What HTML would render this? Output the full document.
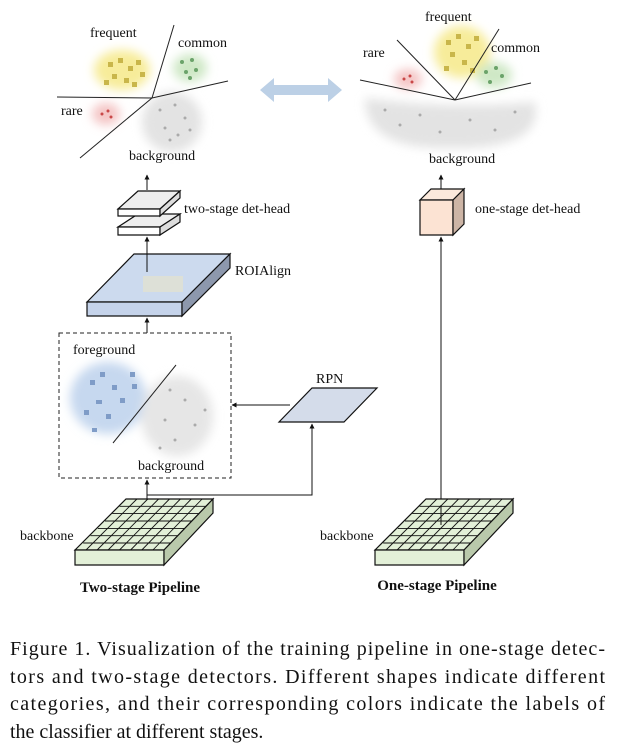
<!DOCTYPE html>
<html><head><meta charset="utf-8"><style>
html,body{margin:0;padding:0;background:#fff;}
svg{display:block;}
text{font-family:"Liberation Serif",serif;fill:#111;}
</style></head><body>
<svg width="617" height="748" viewBox="0 0 617 748" xmlns="http://www.w3.org/2000/svg">
<defs>
<marker id="ar" viewBox="0 0 10 10" refX="9" refY="5" markerWidth="5" markerHeight="5" orient="auto"><path d="M0,0L10,5L0,10z" fill="#111"/></marker>
<filter id="bl" x="-50%" y="-50%" width="200%" height="200%"><feGaussianBlur stdDeviation="5"/></filter>
<pattern id="grid" width="11" height="7.3" patternUnits="userSpaceOnUse"></pattern>
</defs>

<!-- left classifier -->
<g filter="url(#bl)">
<ellipse cx="122" cy="70" rx="28" ry="20" fill="#f7ec9a"/>
<ellipse cx="190" cy="68" rx="17" ry="14" fill="#cfe8c6"/>
<ellipse cx="106" cy="114" rx="14" ry="11" fill="#f4c5c5"/>
<ellipse cx="172" cy="122" rx="30" ry="30" fill="#e3e3e3"/>
</g>
<g fill="#c9b64a"><rect x="108" y="62" width="5" height="5"/><rect x="118" y="58" width="5" height="5"/><rect x="128" y="66" width="5" height="5"/><rect x="112" y="74" width="5" height="5"/><rect x="124" y="78" width="5" height="5"/><rect x="136" y="60" width="5" height="5"/><rect x="140" y="72" width="5" height="5"/><rect x="104" y="80" width="5" height="5"/><rect x="132" y="82" width="5" height="5"/></g>
<g fill="#6ba36a"><circle cx="182" cy="62" r="2"/><circle cx="192" cy="60" r="2"/><circle cx="196" cy="70" r="2"/><circle cx="186" cy="72" r="2"/><circle cx="190" cy="78" r="2"/></g>
<g fill="#c94848"><circle cx="102" cy="114" r="1.5"/><circle cx="108" cy="111" r="1.5"/><circle cx="111" cy="117" r="1.5"/></g>
<g fill="#aaa"><circle cx="160" cy="110" r="1.5"/><circle cx="175" cy="105" r="1.5"/><circle cx="185" cy="118" r="1.5"/><circle cx="165" cy="128" r="1.5"/><circle cx="178" cy="135" r="1.5"/><circle cx="190" cy="130" r="1.5"/><circle cx="170" cy="140" r="1.5"/></g>
<g stroke="#222" stroke-width="1" fill="none">
<line x1="174" y1="25" x2="152" y2="98"/><line x1="57" y1="97" x2="152" y2="98"/><line x1="152" y1="98" x2="228" y2="81"/><line x1="152" y1="98" x2="80" y2="158"/>
</g>
<text x="90" y="37" font-size="14">frequent</text>
<text x="178" y="47" font-size="14">common</text>
<text x="61" y="115" font-size="14">rare</text>
<text x="129" y="160" font-size="14">background</text>

<!-- right classifier -->
<g filter="url(#bl)">
<ellipse cx="462" cy="52" rx="28" ry="26" fill="#f7ec9a"/>
<ellipse cx="494" cy="75" rx="18" ry="13" fill="#cfe8c6"/>
<ellipse cx="408" cy="79" rx="14" ry="10" fill="#f4c5c5"/>
<path d="M365,98 Q450,110 535,102 Q545,150 450,148 Q365,150 365,98z" fill="#e3e3e3"/>
</g>
<g fill="#c9b64a"><rect x="446" y="40" width="5" height="5"/><rect x="456" y="34" width="5" height="5"/><rect x="466" y="44" width="5" height="5"/><rect x="450" y="52" width="5" height="5"/><rect x="462" y="60" width="5" height="5"/><rect x="474" y="36" width="5" height="5"/><rect x="444" y="66" width="5" height="5"/><rect x="470" y="68" width="5" height="5"/></g>
<g fill="#6ba36a"><circle cx="486" cy="72" r="2"/><circle cx="496" cy="68" r="2"/><circle cx="502" cy="76" r="2"/><circle cx="490" cy="82" r="2"/></g>
<g fill="#c94848"><circle cx="404" cy="79" r="1.5"/><circle cx="410" cy="76" r="1.5"/><circle cx="412" cy="82" r="1.5"/></g>
<g fill="#aaa"><circle cx="385" cy="110" r="1.5"/><circle cx="400" cy="125" r="1.5"/><circle cx="420" cy="115" r="1.5"/><circle cx="440" cy="132" r="1.5"/><circle cx="470" cy="120" r="1.5"/><circle cx="495" cy="130" r="1.5"/><circle cx="515" cy="112" r="1.5"/></g>
<g stroke="#222" stroke-width="1" fill="none">
<line x1="455" y1="100" x2="397" y2="40"/><line x1="455" y1="100" x2="499" y2="29"/><line x1="455" y1="100" x2="360" y2="80"/><line x1="455" y1="100" x2="531" y2="83"/>
</g>
<text x="425" y="21" font-size="14">frequent</text>
<text x="363" y="57" font-size="14">rare</text>
<text x="491" y="52" font-size="14">common</text>
<text x="429" y="163" font-size="14">background</text>

<!-- double arrow -->
<path d="M260,90 L274,78 L274,85 L328,85 L328,78 L342,90 L328,102 L328,95 L274,95 L274,102z" fill="#bcd0e6"/>

<!-- left det head -->
<line x1="147" y1="190" x2="147" y2="175" stroke="#111" marker-end="url(#ar)"/>
<g stroke="#111" stroke-width="1.2">
<path d="M118,227 L138,214 L180,214 L160,227z" fill="#eee"/><path d="M118,227 H160 V235 H118z" fill="#fff"/><path d="M160,227 L180,214 V222 L160,235z" fill="#ddd"/>
<path d="M118,209 L138,191 L180,191 L160,209z" fill="#eee"/><path d="M118,209 H160 V216 H118z" fill="#fff"/><path d="M160,209 L180,191 V198 L160,216z" fill="#ddd"/>
</g>
<text x="184" y="213" font-size="14">two-stage det-head</text>

<!-- ROIAlign -->
<g stroke="#111" stroke-width="1.2">
<path d="M87,302 L134,254 L230,254 L182,302z" fill="#ccdaee"/>
<path d="M87,302 H182 V316 H87z" fill="#c5d3ea"/>
<path d="M182,302 L230,254 V268 L182,316z" fill="#8d98ad"/>
</g>
<rect x="143" y="276" width="40" height="16" fill="#e8e4c8" opacity="0.6"/>
<line x1="147" y1="272" x2="147" y2="237" stroke="#111" marker-end="url(#ar)"/>
<text x="235" y="275" font-size="14">ROIAlign</text>
<line x1="147" y1="333" x2="147" y2="318" stroke="#111" marker-end="url(#ar)"/>

<!-- dashed box -->
<rect x="59" y="333" width="172" height="145" fill="none" stroke="#222" stroke-dasharray="4,3"/>
<g filter="url(#bl)">
<ellipse cx="108" cy="398" rx="38" ry="36" fill="#c6d8ef"/>
<ellipse cx="177" cy="416" rx="36" ry="40" fill="#e6e6e6"/>
</g>
<g fill="#7f9cc7"><rect x="90" y="380" width="5" height="5"/><rect x="100" y="372" width="5" height="5"/><rect x="112" y="385" width="5" height="5"/><rect x="96" y="400" width="6" height="4"/><rect x="120" y="398" width="5" height="5"/><rect x="84" y="410" width="5" height="5"/><rect x="130" y="372" width="5" height="5"/><rect x="106" y="414" width="5" height="5"/><rect x="92" y="428" width="5" height="4"/><rect x="132" y="384" width="5" height="5"/></g>
<g fill="#aaa"><circle cx="170" cy="390" r="1.5"/><circle cx="185" cy="400" r="1.5"/><circle cx="165" cy="420" r="1.5"/><circle cx="195" cy="425" r="1.5"/><circle cx="175" cy="440" r="1.5"/><circle cx="205" cy="410" r="1.5"/><circle cx="160" cy="448" r="1.5"/></g>
<line x1="176" y1="365" x2="113" y2="443" stroke="#222"/>
<text x="73" y="354" font-size="14">foreground</text>
<text x="138" y="470" font-size="14">background</text>

<!-- RPN -->
<path d="M279,422 L312,388 L377,388 L344,422z" fill="#d4dcea" stroke="#111" stroke-width="1.2"/>
<text x="316" y="383" font-size="14">RPN</text>
<line x1="290" y1="405" x2="232" y2="405" stroke="#111" marker-end="url(#ar)"/>
<polyline points="147,495 312,495 312,424" fill="none" stroke="#111" marker-end="url(#ar)"/>
<line x1="147" y1="520" x2="147" y2="480" stroke="#111" marker-end="url(#ar)"/>

<!-- right det head -->
<line x1="441" y1="189" x2="441" y2="175" stroke="#111" marker-end="url(#ar)"/>
<g stroke="#111" stroke-width="1.2">
<path d="M420,200 L431,189 L464,189 L453,200z" fill="#fbe9dc"/>
<path d="M420,200 H453 V235 H420z" fill="#fce3d3"/>
<path d="M453,200 L464,189 V224 L453,235z" fill="#cdb5a6"/>
</g>
<text x="475" y="213" font-size="14">one-stage det-head</text>
<line x1="441" y1="515" x2="441" y2="237" stroke="#111" marker-end="url(#ar)"/>

<!-- backbones -->
<g id="bb" stroke="#111" stroke-width="1.2">
<path d="M75,550 L126,499 L213,499 L164,550z" fill="#e3f0d8"/>
<path d="M75,550 H164 V565 H75z" fill="#e3f0d8"/>
<path d="M164,550 L213,499 V513 L164,565z" fill="#b9c9ab"/>
<g stroke-width="0.9">
<line x1="86" y1="550" x2="136.9" y2="499"/><line x1="97.1" y1="550" x2="147.8" y2="499"/><line x1="108.1" y1="550" x2="158.6" y2="499"/><line x1="119.5" y1="550" x2="169.5" y2="499"/><line x1="130.6" y1="550" x2="180.4" y2="499"/><line x1="141.8" y1="550" x2="191.3" y2="499"/><line x1="152.9" y1="550" x2="202.1" y2="499"/>
<line x1="119.6" y1="506.3" x2="206" y2="506.3"/><line x1="112.3" y1="513.6" x2="199" y2="513.6"/><line x1="105" y1="521" x2="192" y2="521"/><line x1="97.8" y1="528.4" x2="185" y2="528.4"/><line x1="90.5" y1="535.7" x2="178" y2="535.7"/><line x1="83.2" y1="543" x2="171" y2="543"/>
</g>
</g>
<use href="#bb" x="300" y="0"/>
<text x="20" y="540" font-size="14">backbone</text>
<text x="320" y="540" font-size="14">backbone</text>
<line x1="441" y1="525" x2="441" y2="505" stroke="#111"/>

<text x="140" y="592" font-size="15" font-weight="bold" text-anchor="middle">Two-stage Pipeline</text>
<text x="437" y="590" font-size="15" font-weight="bold" text-anchor="middle">One-stage Pipeline</text>

<g font-size="20">
<text x="10" y="655" textLength="595" lengthAdjust="spacing">Figure 1. Visualization of the training pipeline in one-stage detec-</text>
<text x="10" y="683" textLength="595" lengthAdjust="spacing">tors and two-stage detectors.  Different shapes indicate different</text>
<text x="10" y="710" textLength="595" lengthAdjust="spacing">categories, and their corresponding colors indicate the labels of</text>
<text x="10" y="738">the classifier at different stages.</text>
</g>
</svg>
</body></html>
